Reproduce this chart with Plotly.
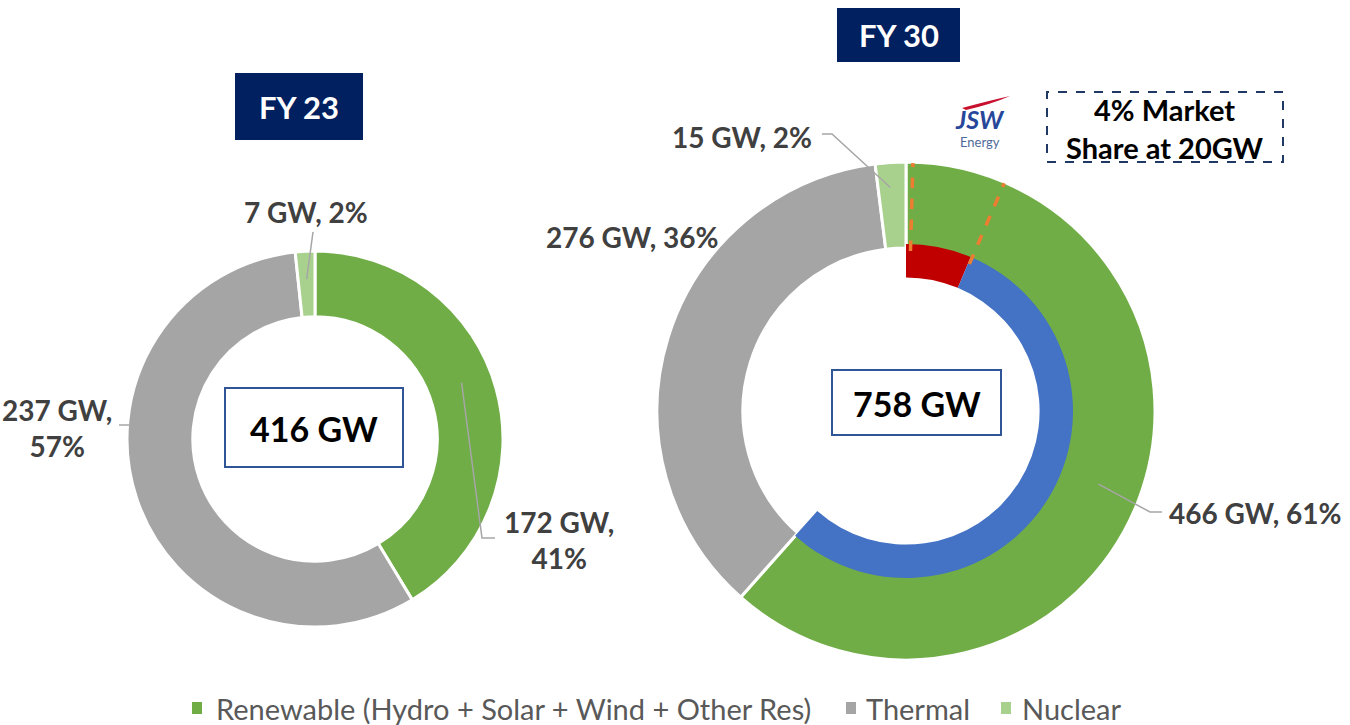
import math
import plotly.graph_objects as go

# ---------------- data ----------------
categories = ["Renewable (Hydro + Solar + Wind + Other Res)", "Thermal", "Nuclear"]
fy23_gw = [172, 237, 7]
fy30_gw = [466, 276, 15]
fy23_labels = ["172 GW,<br>41%", "237 GW,<br>57%", "7 GW, 2%"]
fy30_labels = ["466 GW, 61%", "276 GW, 36%", "15 GW, 2%"]
fy23_total = "416 GW"
fy30_total = "758 GW"
# inner ring of FY30 (JSW share within renewables)
inner_labels = ["JSW Energy", "Other renewable", "Non-renewable"]
inner_values = [48, 418, 291]
market_note = "4% Market<br>Share at 20GW"

colors = ["#70AD47", "#A5A5A5", "#A9D18E"]
inner_colors = ["#C00000", "#4472C4", "rgba(0,0,0,0)"]

W, H = 1350, 725


def px(x):
    return x / W


def py(y):
    return 1 - y / H


def dom(cx, cy, r):
    return dict(x=[px(cx - r), px(cx + r)], y=[py(cy + r), py(cy - r)])


def polar(cx, cy, r, ang):
    a = math.radians(ang)
    return cx + r * math.sin(a), cy - r * math.cos(a)


# geometry (pixels)
L_C = (315, 439, 188)
R_C = (906, 411, 249)
INNER_R = 167

fig = go.Figure()
fig.add_trace(go.Pie(
    labels=categories, values=fy23_gw, hole=0.65, sort=False, direction="clockwise",
    rotation=0, textinfo="none", marker=dict(colors=colors, line=dict(color="white", width=3)),
    domain=dom(*L_C), showlegend=False, hoverinfo="label+value"))
fig.add_trace(go.Pie(
    labels=categories, values=fy30_gw, hole=0.655, sort=False, direction="clockwise",
    rotation=0, textinfo="none", marker=dict(colors=colors, line=dict(color="white", width=3)),
    domain=dom(R_C[0], R_C[1], R_C[2]), showlegend=False, hoverinfo="label+value"))
fig.add_trace(go.Pie(
    labels=inner_labels, values=inner_values, hole=0.80, sort=False, direction="clockwise",
    rotation=0, textinfo="none", marker=dict(colors=inner_colors, line=dict(width=0)),
    domain=dom(R_C[0], R_C[1], INNER_R), showlegend=False, hoverinfo="skip"))

shapes = []
annotations = []
LBL = dict(family="Lato", size=28, color="#404040")
LINE = dict(color="#A6A6A6", width=1.5)


def path_line(points, line=LINE):
    d = "M" + " L".join(f"{px(x)},{py(y)}" for x, y in points)
    shapes.append(dict(type="path", path=d, xref="paper", yref="paper", line=line))


def text(x, y, s, font, xanchor="center", **kw):
    annotations.append(dict(x=px(x), y=py(y), xref="paper", yref="paper", text=s,
                            showarrow=False, font=font, xanchor=xanchor, yanchor="middle", **kw))


# FY23 labels + leaders
path_line([polar(L_C[0], L_C[1], 160, 357), (313, 232)])
text(306, 212, f"<b>{fy23_labels[2]}</b>", LBL)
path_line([polar(L_C[0], L_C[1], 157, 69), (482, 538), (495, 538)])
text(559, 540, f"<b>{fy23_labels[0]}</b>", LBL)
path_line([(119, 425), (129, 425)])
text(57, 428, f"<b>{fy23_labels[1]}</b>", LBL)

# FY30 labels + leaders
path_line([polar(R_C[0], R_C[1], 224, 356), (832, 134), (822, 134)])
text(742, 137, f"<b>{fy30_labels[2]}</b>", LBL)
text(632, 237, f"<b>{fy30_labels[1]}</b>", LBL)
path_line([polar(R_C[0], R_C[1], 206, 110.8), (1150, 512), (1162, 512)])
text(1255, 513, f"<b>{fy30_labels[0]}</b>", LBL)

# orange dashed lines bounding the JSW slice
tot = sum(inner_values)
red_end = inner_values[0] / tot * 360
ORANGE = dict(color="#ED7D31", width=3.5, dash="dash")
for ang in (1.6, red_end + 0.5):
    p1 = polar(R_C[0], R_C[1], 160, ang)
    p2 = polar(R_C[0], R_C[1], 248, ang)
    shapes.append(dict(type="line", xref="paper", yref="paper", x0=px(p1[0]), y0=py(p1[1]),
                       x1=px(p2[0]), y1=py(p2[1]), line=ORANGE))

# center total boxes
for (x0, y0, x1, y1), s in [((225, 388, 403, 467), fy23_total), ((832, 370, 1001, 435), fy30_total)]:
    shapes.append(dict(type="rect", xref="paper", yref="paper", x0=px(x0), y0=py(y1), x1=px(x1), y1=py(y0),
                       line=dict(color="#2F5597", width=2), fillcolor="white"))
    text((x0 + x1) / 2, (y0 + y1) / 2 + 1, f"<b>{s}</b>", dict(family="Lato", size=34, color="black"))

# FY header boxes
for (x0, y0, x1, y1), s in [((235, 73, 363, 140), "FY 23"), ((837, 8, 960, 62), "FY 30")]:
    shapes.append(dict(type="rect", xref="paper", yref="paper", x0=px(x0), y0=py(y1), x1=px(x1), y1=py(y0),
                       line=dict(width=0), fillcolor="#002060"))
    text((x0 + x1) / 2, (y0 + y1) / 2, f"<b>{s}</b>", dict(family="Lato", size=31, color="white"))

# market share note box
shapes.append(dict(type="rect", xref="paper", yref="paper", x0=px(1047), y0=py(162), x1=px(1283), y1=py(92),
                   line=dict(color="#1F3864", width=2, dash="dash"), fillcolor="rgba(0,0,0,0)"))
text(1165, 128, f"<b>{market_note}</b>", dict(family="Lato", size=29, color="black"))

# JSW Energy logo (as text)
text(980, 119, "<b><i>JSW</i></b>", dict(family="Lato", size=25, color="#27479A"))
text(980, 142, "Energy", dict(family="Lato", size=13, color="#4F6A9A"))
shapes.append(dict(type="path", xref="paper", yref="paper",
                   path=f"M{px(962)},{py(108)} Q{px(988)},{py(101)} {px(1010)},{py(96)} Q{px(992)},{py(104)} {px(966)},{py(110)} Z",
                   fillcolor="#C8102E", line=dict(width=0)))

# legend (manual, one entry per category)
LEG = dict(family="Lato", size=29, color="#595959")
leg_sq_x = [197, 851, 1006]
leg_txt_x = [214, 864, 1020]
for i, cat in enumerate(categories):
    shapes.append(dict(type="rect", xref="paper", yref="paper",
                       x0=px(leg_sq_x[i] - 5), x1=px(leg_sq_x[i] + 5), y0=py(714), y1=py(702),
                       fillcolor=colors[i], line=dict(width=0)))
    text(leg_txt_x[i], 708, cat, LEG, xanchor="left")

fig.update_layout(
    width=W, height=H,
    margin=dict(l=0, r=0, t=0, b=0),
    paper_bgcolor="white", plot_bgcolor="white",
    shapes=shapes, annotations=annotations,
    showlegend=False,
)

fig.write_html("out.html", config={"displayModeBar": False},
               post_script="document.body.style.margin='0';document.body.style.padding='0';")
